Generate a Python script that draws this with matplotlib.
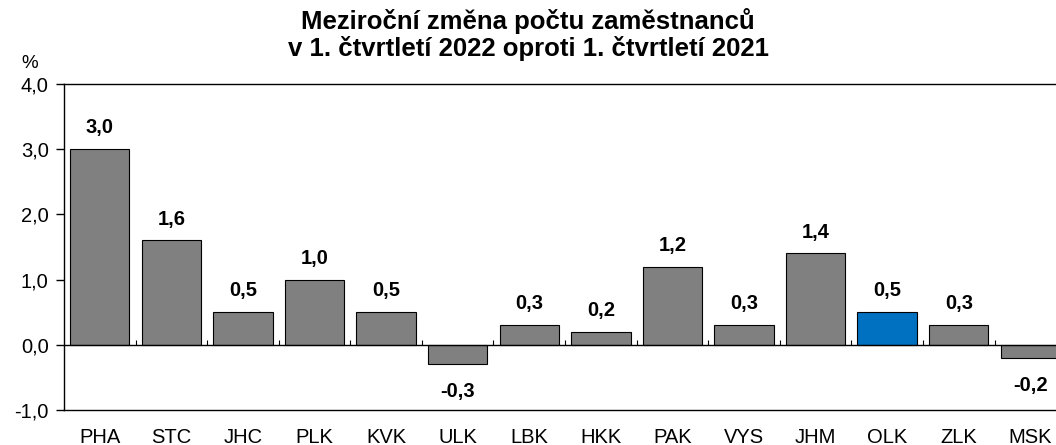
import matplotlib.pyplot as plt
import numpy as np

plt.rcParams['font.family'] = ['Liberation Sans', 'DejaVu Sans']

# data
regions = ['PHA', 'STC', 'JHC', 'PLK', 'KVK', 'ULK', 'LBK', 'HKK', 'PAK', 'VYS', 'JHM', 'OLK', 'ZLK', 'MSK']
values = [3.0, 1.6, 0.5, 1.0, 0.5, -0.3, 0.3, 0.2, 1.2, 0.3, 1.4, 0.5, 0.3, -0.2]
highlight = 'OLK'

colors = ['#0070C0' if r == highlight else '#808080' for r in regions]

fig = plt.figure(figsize=(10.56, 4.45), dpi=100)
ax = fig.add_axes([0.0606, 0.0787, 0.949, 0.7326])

x = np.arange(len(regions))
ax.bar(x, values, width=0.83, color=colors, edgecolor='black', linewidth=0.8, zorder=2)

for xi, v in zip(x, values):
    lab = f"{v:.1f}".replace('.', ',')
    if v >= 0:
        ax.annotate(lab, (xi, v), xytext=(0, 8.5), textcoords='offset points',
                    ha='center', va='bottom', fontsize=14.5, fontweight='bold')
    else:
        ax.annotate(lab, (xi, v), xytext=(0, -13), textcoords='offset points',
                    ha='center', va='top', fontsize=14.5, fontweight='bold')

# zero line with small category-boundary ticks
ax.axhline(0, color='black', linewidth=1, zorder=3)
bounds = np.arange(len(regions) + 1) - 0.5
ax.vlines(bounds[1:-1], 0, 0.07, color='black', linewidth=0.8, zorder=3)

ax.set_xlim(-0.5, len(regions) - 0.5)
ax.set_ylim(-1, 4)
ax.set_yticks(np.arange(-1, 5, 1))
ax.set_yticklabels([f"{t:.1f}".replace('.', ',') for t in np.arange(-1, 5, 1)], fontsize=14.5)
ax.set_xticks(x)
ax.set_xticklabels(regions, fontsize=14.5)
ax.tick_params(axis='x', length=0, pad=13)
ax.tick_params(axis='y', length=6, width=1, direction='out', pad=5)

ax.spines['right'].set_visible(False)
for s in ['left', 'top', 'bottom']:
    ax.spines[s].set_linewidth(1)

fig.text(0.5, 0.982, "Meziroční změna počtu zaměstnanců\nv 1. čtvrtletí 2022 oproti 1. čtvrtletí 2021",
         ha='center', va='top', fontsize=18.5, fontweight='bold', linespacing=1.08)
fig.text(0.02, 0.858, "%", ha='left', va='center', fontsize=13.5)

plt.savefig("out.png", dpi=100)
